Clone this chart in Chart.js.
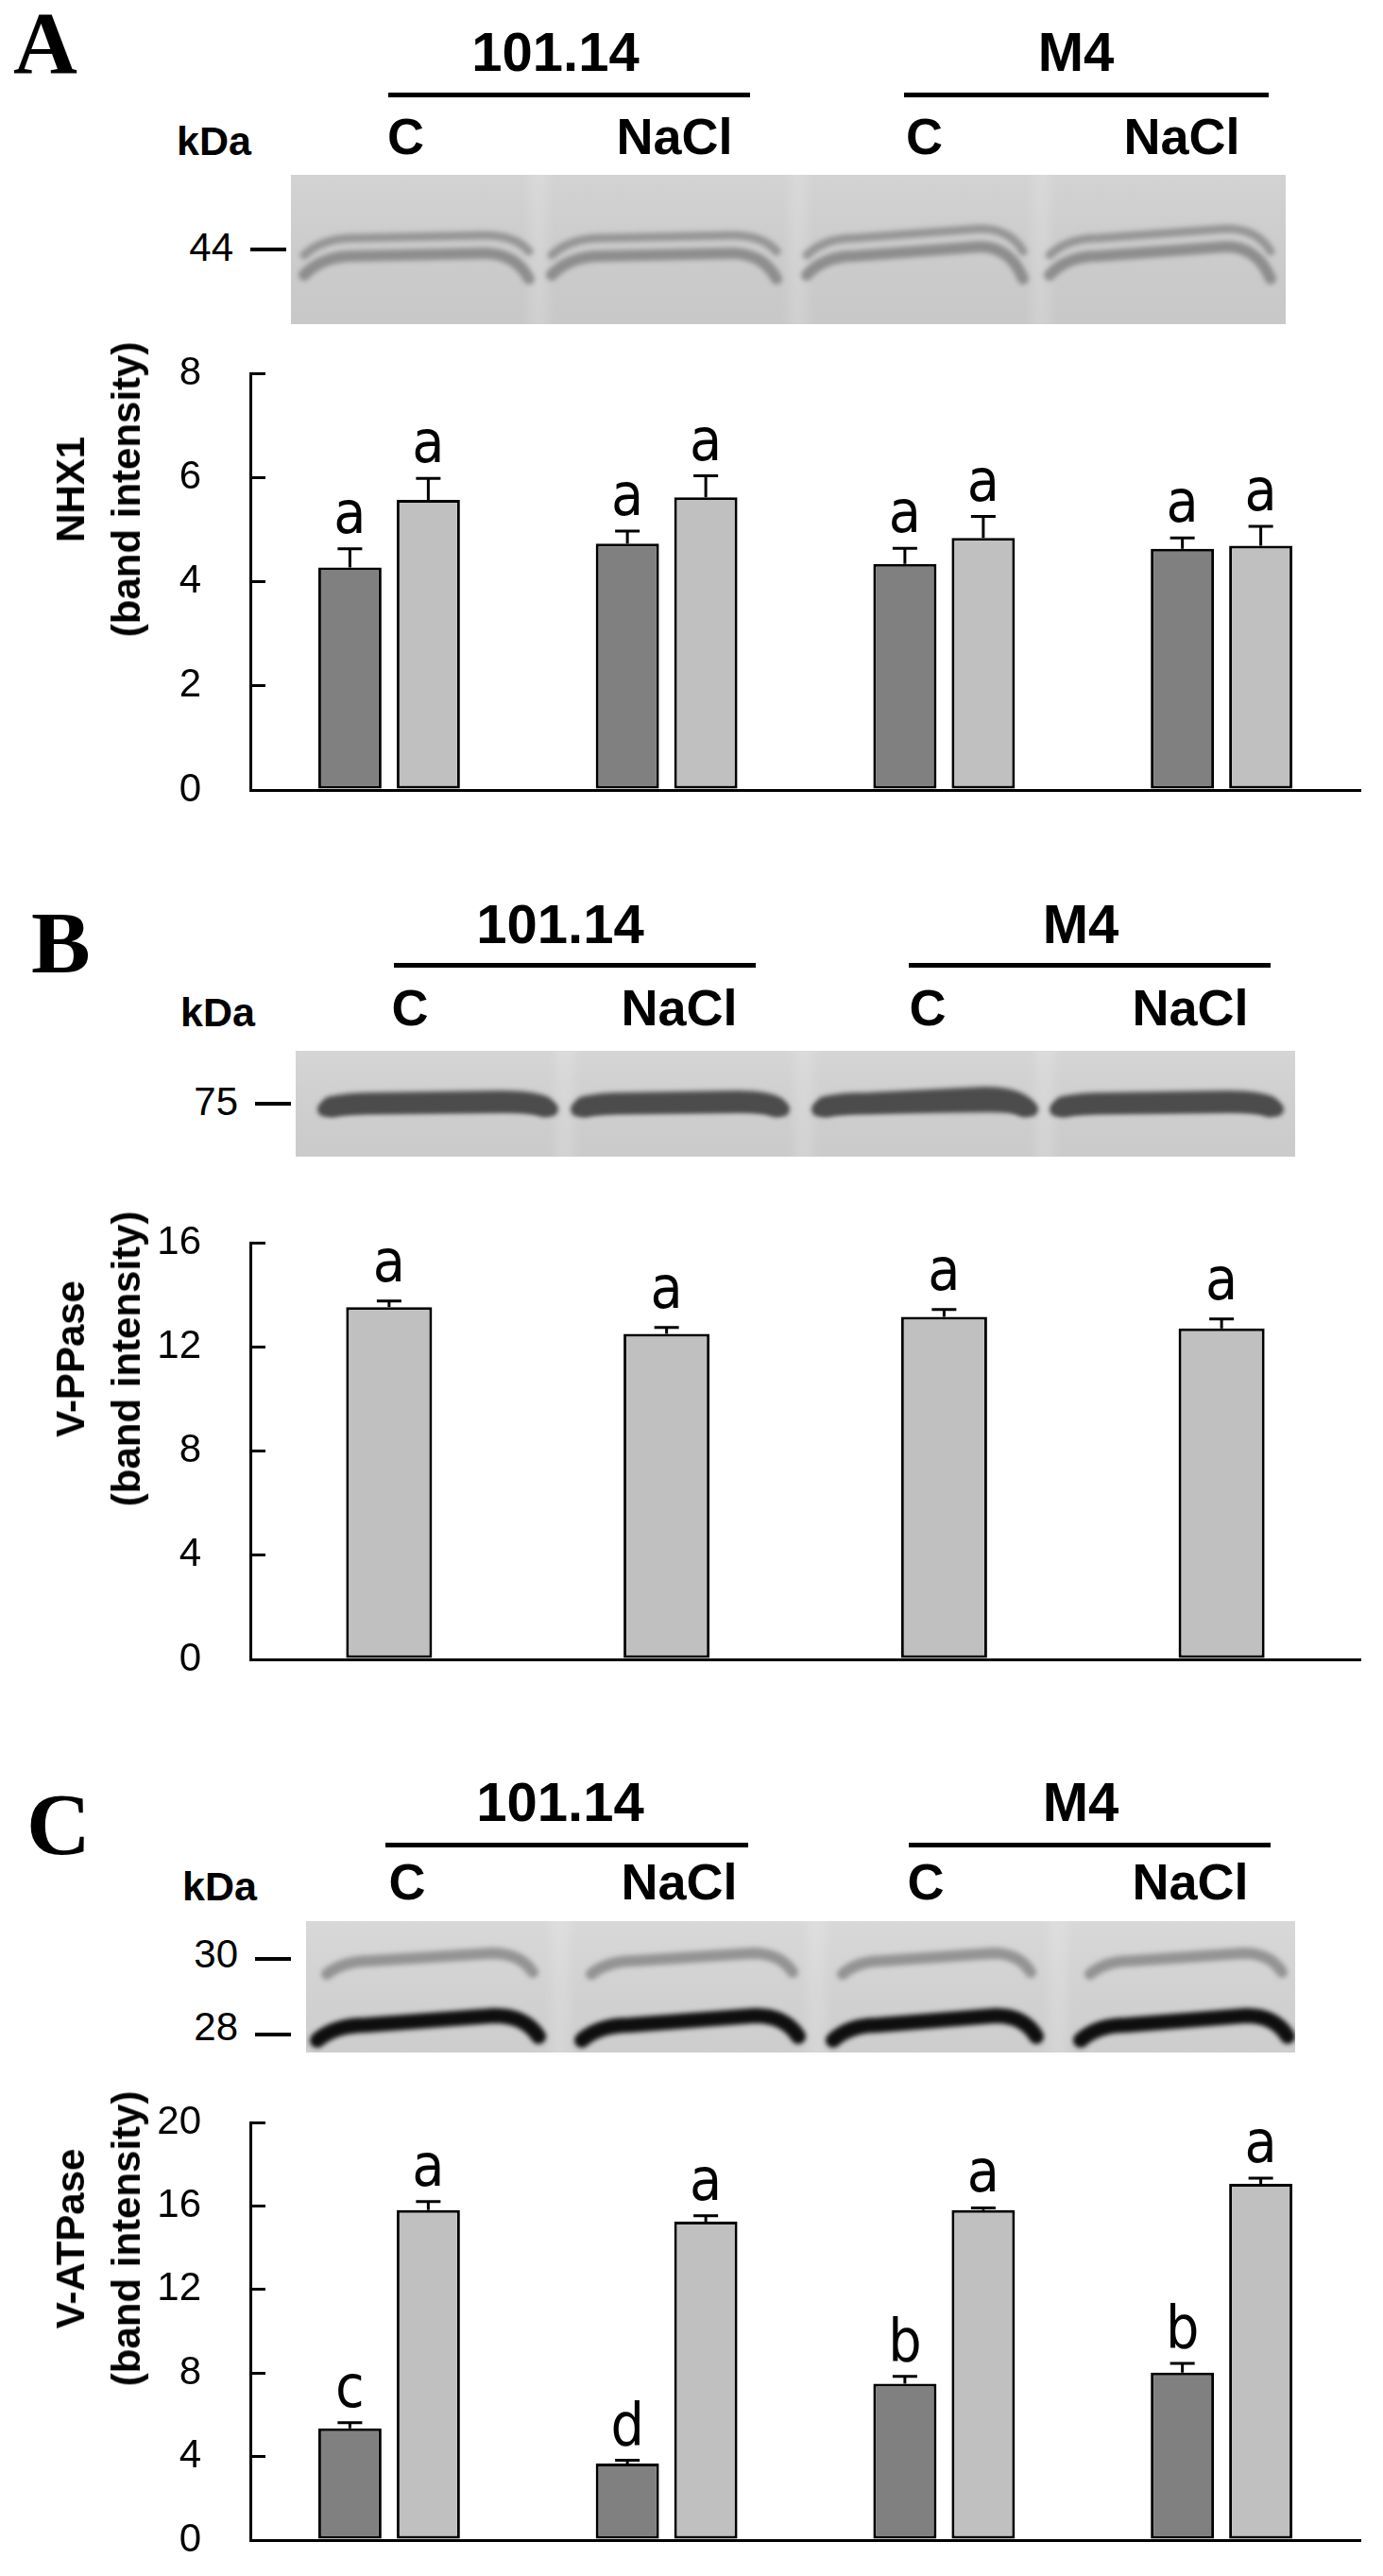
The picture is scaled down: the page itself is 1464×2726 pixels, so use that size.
<!DOCTYPE html>
<html>
<head>
<meta charset="utf-8">
<script src="https://cdn.jsdelivr.net/npm/chart.js@4.4.0/dist/chart.umd.min.js"></script>
<style>
  body { margin: 0; background: #fff; }
  #page { position: relative; width: 1464px; height: 2726px; overflow: hidden; background: #fff; }
  .t { position: absolute; white-space: nowrap; line-height: 1; color: #000; font-family: "Liberation Sans", Arial, sans-serif; }
  .rule { position: absolute; background: #000; }
  canvas { position: absolute; left: 0; }
</style>
</head>
<body>
<div id="page"></div>
<script>
// lanes / groups on the x axis
var groups = ['101.14 C', '101.14 NaCl', 'M4 C', 'M4 NaCl'];

// A - NHX1
var nhx1Dark = [4.27, 4.73, 4.34, 4.63];
var nhx1DarkErr = [0.36, 0.24, 0.30, 0.21];
var nhx1Light = [5.57, 5.62, 4.84, 4.69];
var nhx1LightErr = [0.41, 0.41, 0.41, 0.37];
var nhx1DarkLetters = ['a', 'a', 'a', 'a'];
var nhx1LightLetters = ['a', 'a', 'a', 'a'];
var nhx1Ticks = [0, 2, 4, 6, 8];

// B - V-PPase
var vppLight = [13.52, 12.50, 13.15, 12.71];
var vppLightErr = [0.24, 0.24, 0.28, 0.36];
var vppLetters = ['a', 'a', 'a', 'a'];
var vppTicks = [0, 4, 8, 12, 16];

// C - V-ATPase
var vatpDark = [5.35, 3.66, 7.49, 8.02];
var vatpDarkErr = [0.27, 0.16, 0.35, 0.44];
var vatpLight = [15.80, 15.25, 15.80, 17.06];
var vatpLightErr = [0.41, 0.28, 0.11, 0.27];
var vatpDarkLetters = ['c', 'd', 'b', 'b'];
var vatpLightLetters = ['a', 'a', 'a', 'a'];
var vatpTicks = [0, 4, 8, 12, 16, 20];

var DARK = '#808080';
var LIGHT = '#c0c0c0';
var page = document.getElementById('page');

function addText(txt, x, base, size, opt) {
  opt = opt || {};
  var d = document.createElement('div');
  d.className = 't';
  d.textContent = txt;
  var asc = opt.serif ? 0.8375 : 0.8465;
  d.style.fontSize = size + 'px';
  d.style.fontWeight = opt.bold ? 'bold' : 'normal';
  if (opt.serif) d.style.fontFamily = '"Liberation Serif", "Times New Roman", serif';
  d.style.left = x + 'px';
  d.style.top = (base - asc * size) + 'px';
  if (opt.align == 'center') d.style.transform = 'translateX(-50%)';
  if (opt.align == 'right') d.style.transform = 'translateX(-100%)';
  page.appendChild(d);
}

function addRule(x0, x1, y, h) {
  var d = document.createElement('div');
  d.className = 'rule';
  d.style.left = x0 + 'px';
  d.style.width = (x1 - x0) + 'px';
  d.style.top = (y - h / 2) + 'px';
  d.style.height = h + 'px';
  page.appendChild(d);
}

function addYTitle(lines, cx, cy) {
  var d = document.createElement('div');
  d.className = 't';
  d.style.fontWeight = 'bold';
  d.style.fontSize = '42px';
  d.style.lineHeight = '59px';
  d.style.textAlign = 'center';
  d.style.left = cx + 'px';
  d.style.top = cy + 'px';
  d.style.transform = 'translate(-50%, -50%) rotate(-90deg)';
  d.innerHTML = lines.join('<br>');
  page.appendChild(d);
}

function header(p) {
  addText(p.letter, p.letterX, p.letterY, 94, {bold: true, serif: true});
  addText('101.14', p.g1, p.groupY, 58, {bold: true, align: 'center'});
  addText('M4', p.g2, p.groupY, 58, {bold: true, align: 'center'});
  addRule(p.line1[0], p.line1[1], p.lineY, 5);
  addRule(p.line2[0], p.line2[1], p.lineY, 5);
  addText('kDa', p.kdaX, p.subY + 1, 43, {bold: true});
  var subs = ['C', 'NaCl', 'C', 'NaCl'];
  for (var i = 0; i < 4; i++) addText(subs[i], p.lanes[i], p.subY, 54, {bold: true, align: 'center'});
  p.markers.forEach(function (m) {
    addText(m[0], m[1], m[2], 42, {align: 'right'});
    addRule(m[1] + 18, m[1] + 56, m[3], 4);
  });
}

// western blot strip (picture, not data)
function blot(p, draw) {
  var c = document.createElement('canvas');
  c.width = p.blot.w; c.height = p.blot.h;
  c.style.left = p.blot.x + 'px';
  c.style.top = p.blot.y + 'px';
  page.appendChild(c);
  var ctx = c.getContext('2d');
  ctx.fillStyle = p.blot.bg;
  ctx.fillRect(0, 0, c.width, c.height);
  var g = ctx.createLinearGradient(0, 0, 0, c.height);
  g.addColorStop(0, 'rgba(255,255,255,0.06)');
  g.addColorStop(1, 'rgba(0,0,0,0.04)');
  ctx.fillStyle = g;
  ctx.fillRect(0, 0, c.width, c.height);
  ctx.filter = 'blur(6px)';
  p.blot.gaps.forEach(function (gx) {
    ctx.fillStyle = 'rgba(255,255,255,0.16)';
    ctx.fillRect(gx - 10, -10, 20, c.height + 20);
  });
  ctx.filter = 'blur(2.5px)';
  ctx.lineCap = 'round';
  draw(ctx, p.blot.laneX);
  ctx.filter = 'none';
}

function arch(ctx, x0, x1, y, dropL, dropR, lift) {
  var L = x1 - x0;
  ctx.beginPath();
  ctx.moveTo(x0, y + dropL);
  ctx.quadraticCurveTo(x0 + 0.08 * L, y, x0 + 0.22 * L, y);
  ctx.lineTo(x1 - 0.2 * L, y - lift);
  ctx.quadraticCurveTo(x1 - 0.06 * L, y - lift, x1, y + dropR);
  ctx.stroke();
}

var panels = [
  {letter: 'A', letterX: 14, letterY: 77, groupY: 75, g1: 588, g2: 1139, lineY: 100,
   line1: [411, 794], line2: [957, 1343], kdaX: 187, subY: 163, lanes: [429.5, 714, 978.5, 1251],
   markers: [['44', 247, 277, 264]],
   blot: {x: 308, y: 185, w: 1053, h: 158, bg: '#d0d0d0', gaps: [262, 537, 794],
          laneX: [[14, 252], [276, 514], [546, 775], [803, 1037]]},
   top: 395, bottom: 836, title: ['NHX1', '(band intensity)']},
  {letter: 'B', letterX: 33, letterY: 1029, groupY: 998, g1: 593, g2: 1144, lineY: 1021,
   line1: [417, 800], line2: [962, 1345], kdaX: 191, subY: 1085, lanes: [434, 719, 982, 1260],
   markers: [['75', 252, 1181, 1168]],
   blot: {x: 313, y: 1112, w: 1058, h: 112, bg: '#d3d3d3', gaps: [285, 538, 793],
          laneX: [[28, 273], [296, 518], [551, 781], [803, 1041]]},
   top: 1315, bottom: 1756, title: ['V-PPase', '(band intensity)']},
  {letter: 'C', letterX: 28, letterY: 1962, groupY: 1927, g1: 593, g2: 1144, lineY: 1952,
   line1: [408, 792], line2: [962, 1345], kdaX: 193, subY: 2010, lanes: [431, 719, 980, 1260],
   markers: [['30', 252, 2083, 2073], ['28', 252, 2160, 2153]],
   blot: {x: 324, y: 2033, w: 1047, h: 139, bg: '#d6d6d6', gaps: [269, 540, 796],
          laneX: [[12, 246], [292, 521], [558, 773], [820, 1039]]},
   top: 2246, bottom: 2688, title: ['V-ATPase', '(band intensity)']}
];

panels.forEach(header);

blot(panels[0], function (ctx, lanes) {
  lanes.forEach(function (l, i) {
    var hook = i >= 2 ? 10 : 3;
    ctx.strokeStyle = 'rgba(120,120,120,0.65)';
    ctx.lineWidth = 9;
    arch(ctx, l[0], l[1], 67, 18, 14, hook);
    ctx.strokeStyle = 'rgba(115,115,115,0.7)';
    ctx.lineWidth = 12;
    arch(ctx, l[0], l[1], 86, 20, 24, hook);
  });
});

blot(panels[1], function (ctx, lanes) {
  lanes.forEach(function (l, i) {
    ctx.strokeStyle = '#4c4c4c';
    ctx.lineWidth = 22;
    arch(ctx, l[0] + 10, l[1] - 10, 55, 4, 4, i == 2 ? 6 : 2);
    ctx.lineWidth = 14;
    arch(ctx, l[0] + 2, l[1] - 2, 59, 3, 3, 1);
  });
});

blot(panels[2], function (ctx, lanes) {
  lanes.forEach(function (l) {
    ctx.strokeStyle = 'rgba(95,95,95,0.55)';
    ctx.lineWidth = 12;
    arch(ctx, l[0] + 10, l[1] - 6, 42, 14, 12, 8);
    ctx.strokeStyle = '#0e0e0e';
    ctx.lineWidth = 16;
    arch(ctx, l[0], l[1], 110, 16, 12, 10);
  });
});

// error bars + significance letters, positioned by the y scale
function errPlugin(errs, letters, gap) {
  return {
    id: 'errbars',
    afterDatasetsDraw: function (chart) {
      var ctx = chart.ctx;
      var y = chart.scales.y;
      chart.data.datasets.forEach(function (ds, di) {
        chart.getDatasetMeta(di).data.forEach(function (bar, i) {
          var top = y.getPixelForValue(ds.data[i]);
          var eTop = y.getPixelForValue(ds.data[i] + errs[di][i]);
          ctx.save();
          ctx.strokeStyle = '#000';
          ctx.lineWidth = 3;
          ctx.beginPath();
          ctx.moveTo(bar.x, top);
          ctx.lineTo(bar.x, eTop);
          ctx.moveTo(bar.x - 13, eTop);
          ctx.lineTo(bar.x + 13, eTop);
          ctx.stroke();
          ctx.fillStyle = '#000';
          ctx.font = '62px "Liberation Sans Narrow", "DejaVu Sans Condensed", sans-serif';
          ctx.textAlign = 'center';
          ctx.textBaseline = 'alphabetic';
          ctx.fillText(letters[di][i], bar.x, eTop - gap);
          ctx.restore();
        });
      });
    }
  };
}

function makeChart(p, datasets, ticks, errs, letters, gap) {
  var padTop = 30, padBottom = 30;
  var c = document.createElement('canvas');
  c.width = 1464;
  c.height = padTop + (p.bottom - p.top) + padBottom;
  c.style.top = (p.top - padTop) + 'px';
  page.appendChild(c);
  addYTitle(p.title, 104, p.top + 123);
  return new Chart(c.getContext('2d'), {
    type: 'bar',
    data: {labels: groups, datasets: datasets},
    options: {
      responsive: false,
      animation: false,
      devicePixelRatio: 1,
      layout: {padding: {top: padTop, bottom: padBottom, left: 0, right: 24}},
      plugins: {legend: {display: false}, tooltip: {enabled: false}},
      scales: {
        x: {
          grid: {display: false, drawTicks: false},
          ticks: {display: false},
          border: {display: true, color: '#000', width: 3},
          afterFit: function (s) { s.height = 0; }
        },
        y: {
          min: ticks[0],
          max: ticks[ticks.length - 1],
          afterBuildTicks: function (s) { s.ticks = ticks.map(function (v) { return {value: v}; }); },
          grid: {drawOnChartArea: false, drawTicks: true, tickLength: -16, color: '#000', lineWidth: 3},
          border: {display: true, color: '#000', width: 3},
          ticks: {color: '#000', padding: 68, font: {family: '"Liberation Sans", Arial, sans-serif', size: 42}},
          afterFit: function (s) { s.width = 265; s.paddingTop = 0; s.paddingBottom = 0; }
        }
      }
    },
    plugins: [errPlugin(errs, letters, gap)]
  });
}

function barSet(label, data, color, cat, pct) {
  return {label: label, data: data, backgroundColor: color, borderColor: '#000', borderWidth: 3,
          borderSkipped: false, categoryPercentage: cat, barPercentage: pct};
}

makeChart(panels[0],
  [barSet('dark', nhx1Dark, DARK, 0.565, 0.807), barSet('light', nhx1Light, LIGHT, 0.565, 0.807)],
  nhx1Ticks, [nhx1DarkErr, nhx1LightErr], [nhx1DarkLetters, nhx1LightLetters], 17);

makeChart(panels[1],
  [barSet('light', vppLight, LIGHT, 0.31, 1)],
  vppTicks, [vppLightErr], [vppLetters], 21);

makeChart(panels[2],
  [barSet('dark', vatpDark, DARK, 0.565, 0.807), barSet('light', vatpLight, LIGHT, 0.565, 0.807)],
  vatpTicks, [vatpDarkErr, vatpLightErr], [vatpDarkLetters, vatpLightLetters], 17);
</script>
</body>
</html>
